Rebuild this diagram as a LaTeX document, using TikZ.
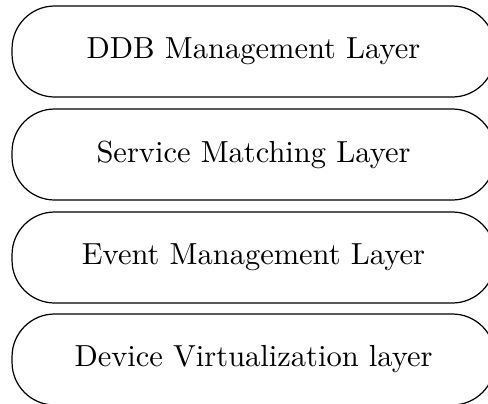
\documentclass[tikz,border=0pt]{standalone}
\begin{document}
\begin{tikzpicture}[x=0.328pt,y=-0.328pt,
  layerbox/.style={draw,rounded corners=14pt,minimum width=158.4pt,minimum height=29.85pt,inner sep=0pt,font=\normalsize}]
\useasboundingbox (0,0) rectangle (488,404);
\node[layerbox] (l1) at (253.5,51.5) {DDB Management Layer};
\node[layerbox] (l2) at (253.5,154.5) {Service Matching Layer};
\node[layerbox] (l3) at (253.5,257.5) {Event Management Layer};
\node[layerbox] (l4) at (253.5,359.5) {Device Virtualization layer};
\end{tikzpicture}
\end{document}
